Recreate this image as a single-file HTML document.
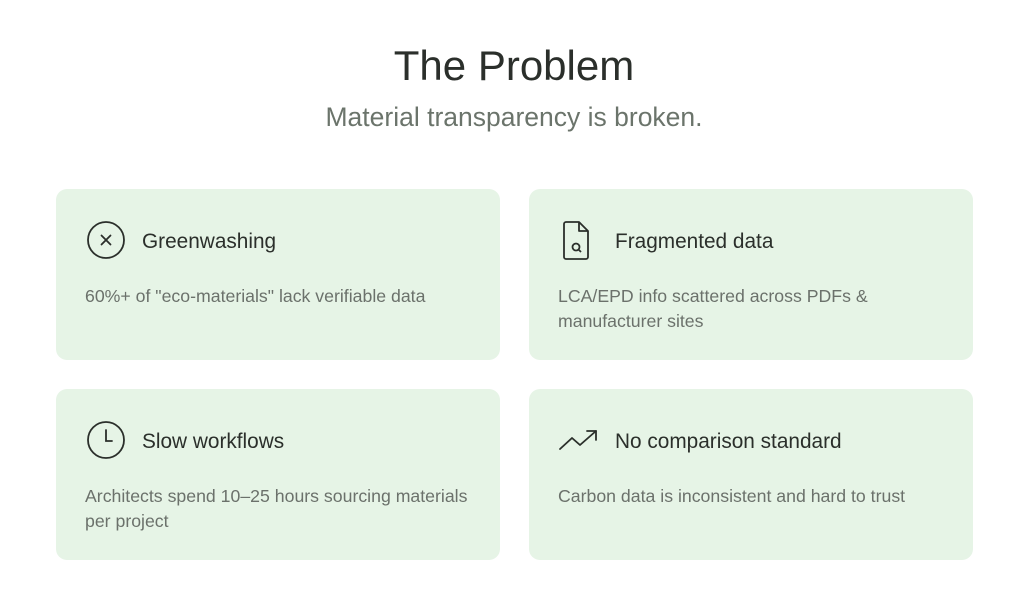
<!DOCTYPE html>
<html><head><meta charset="utf-8"><style>
body{margin:0;width:1017px;height:597px;background:#fff;font-family:"Liberation Sans",sans-serif;position:relative;overflow:hidden}
.t{position:absolute;left:0;width:1028px;text-align:center;color:#2b2f2b}
.card{position:absolute;width:444px;height:171px;background:#e6f4e6;border-radius:11px}
.h{position:absolute;left:86px;top:41px;font-size:20.8px;color:#2b2f2b}
.b{position:absolute;left:29px;top:95px;width:400px;font-size:17.7px;line-height:25px;color:#6b716b}
svg{position:absolute;left:29px;top:32px}
</style></head><body>
<div class="t" style="top:42px;font-size:42px">The Problem</div>
<div class="t" style="top:102px;font-size:26.5px;color:#6b746b">Material transparency is broken.</div>

<div class="card" style="left:56px;top:189px">
<svg width="40" height="40" viewBox="0 0 40 40" fill="none" stroke="#2b2f2b" stroke-width="1.8" stroke-linecap="round"><circle cx="21" cy="19" r="18"/><path d="M16.5 14.5l9 9M25.5 14.5l-9 9"/></svg>
<div class="h">Greenwashing</div>
<div class="b">60%+ of "eco-materials" lack verifiable data</div></div>

<div class="card" style="left:529px;top:189px">
<svg width="40" height="40" viewBox="0 0 40 40" fill="none" stroke="#2b2f2b" stroke-width="1.8" stroke-linejoin="round"><path d="M8 1h13l9 9v26a2 2 0 0 1-2 2H8a2 2 0 0 1-2-2V3a2 2 0 0 1 2-2z"/><path d="M21 1v9h9"/><circle cx="18" cy="26" r="3.5"/><path d="M20.5 28.5l2.5 2.5"/></svg>
<div class="h">Fragmented data</div>
<div class="b">LCA/EPD info scattered across PDFs &amp; manufacturer sites</div></div>

<div class="card" style="left:56px;top:389px">
<svg width="40" height="40" viewBox="0 0 40 40" fill="none" stroke="#2b2f2b" stroke-width="1.8" stroke-linecap="round"><circle cx="21" cy="19" r="18"/><path d="M21 9v11h6"/></svg>
<div class="h">Slow workflows</div>
<div class="b">Architects spend 10–25 hours sourcing materials per project</div></div>

<div class="card" style="left:529px;top:389px">
<svg width="42" height="40" viewBox="0 0 42 40" fill="none" stroke="#2b2f2b" stroke-width="1.8" stroke-linecap="round" stroke-linejoin="round"><path d="M2 28l12-11 8 7L38 10"/><path d="M29 10h9v9"/></svg>
<div class="h">No comparison standard</div>
<div class="b">Carbon data is inconsistent and hard to trust</div></div>
</body></html>
